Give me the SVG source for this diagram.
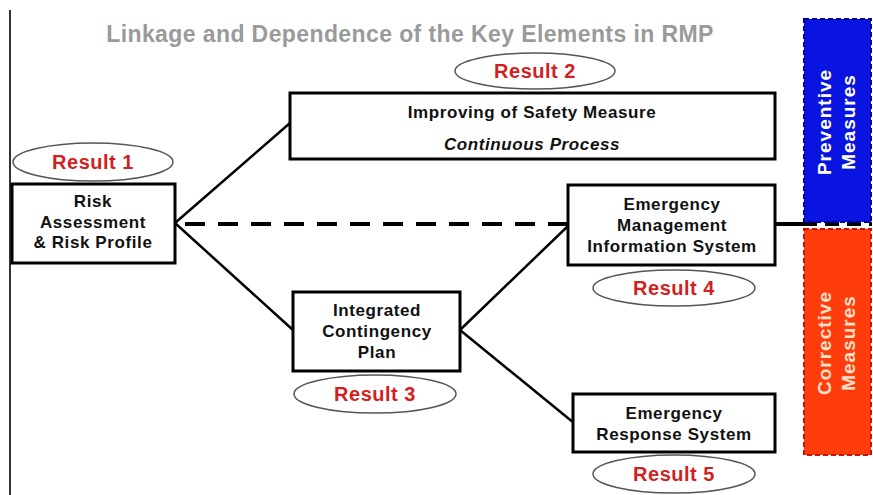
<svg xmlns="http://www.w3.org/2000/svg" width="873" height="495" viewBox="0 0 873 495">
<style>
.box{fill:#fff;stroke:#000;stroke-width:3}
.t{font-family:"Liberation Sans",Arial,sans-serif;font-weight:bold;font-size:17px;letter-spacing:0.6px;fill:#111;text-anchor:middle}
.res{fill:#fff;stroke:#555;stroke-width:1.5}
.rt{font-family:"Liberation Sans",Arial,sans-serif;font-weight:bold;font-size:20px;letter-spacing:0.5px;fill:#d21f1f;text-anchor:middle}
.conn{stroke:#000;stroke-width:2.5;fill:none}
.side{font-family:"Liberation Sans",Arial,sans-serif;font-weight:bold;font-size:19px;letter-spacing:1px;text-anchor:middle}
</style>
<rect width="873" height="495" fill="#fff"/>
<line x1="10" y1="10" x2="10" y2="495" stroke="#333" stroke-width="2"/>
<text x="410" y="42" font-family="Liberation Sans,Arial,sans-serif" font-weight="bold" font-size="23" letter-spacing="0.4" fill="#9a9a9a" text-anchor="middle">Linkage and Dependence of the Key Elements in RMP</text>

<g id="connectors">
<line class="conn" x1="175" y1="223" x2="290" y2="123"/>
<line class="conn" x1="175" y1="223" x2="293" y2="330"/>
<line class="conn" x1="460" y1="330" x2="568" y2="226"/>
<line class="conn" x1="460" y1="330" x2="574" y2="423"/>
<line x1="185" y1="224" x2="568" y2="224" stroke="#000" stroke-width="4" stroke-dasharray="20,13"/>
<line x1="775" y1="224" x2="803" y2="224" stroke="#000" stroke-width="4"/>
<line x1="803" y1="224" x2="872" y2="224" stroke="#000" stroke-width="4" stroke-dasharray="14,8"/>
</g>

<g id="preventive">
<rect x="804" y="19" width="67" height="203" fill="#0a14e0" stroke="#0000a0" stroke-width="2" stroke-dasharray="5,3"/>
<text class="side" fill="#fff" transform="translate(831,122) rotate(-90)">Preventive</text>
<text class="side" fill="#fff" transform="translate(855,122) rotate(-90)">Measures</text>
</g>

<g id="corrective">
<rect x="804" y="229" width="67" height="226" fill="#ff3c0c" stroke="#d01000" stroke-width="2" stroke-dasharray="5,3"/>
<text class="side" fill="#ffe0c8" transform="translate(831,343) rotate(-90)">Corrective</text>
<text class="side" fill="#ffe0c8" transform="translate(855,343) rotate(-90)">Measures</text>
</g>

<g id="risk">
<rect class="box" x="12" y="184" width="163" height="79"/>
<text class="t" x="93" y="207">Risk</text>
<text class="t" x="93" y="228">Assessment</text>
<text class="t" x="93" y="248">&amp; Risk Profile</text>
</g>
<g id="result1">
<ellipse class="res" cx="93" cy="162" rx="80" ry="19"/>
<text class="rt" x="93" y="169">Result 1</text>
</g>

<g id="improving">
<rect class="box" x="290" y="93" width="485" height="66"/>
<text class="t" x="532" y="118">Improving of Safety Measure</text>
<text class="t" x="532" y="150" font-style="italic">Continuous Process</text>
</g>
<g id="result2">
<ellipse class="res" cx="535" cy="71" rx="80" ry="18"/>
<text class="rt" x="535" y="78">Result 2</text>
</g>

<g id="emis">
<rect class="box" x="568" y="185" width="207" height="80"/>
<text class="t" x="672" y="210">Emergency</text>
<text class="t" x="672" y="231">Management</text>
<text class="t" x="672" y="252">Information System</text>
</g>
<g id="result4">
<ellipse class="res" cx="674" cy="288" rx="81" ry="18"/>
<text class="rt" x="674" y="295">Result 4</text>
</g>

<g id="icp">
<rect class="box" x="293" y="292" width="167" height="79"/>
<text class="t" x="377" y="316">Integrated</text>
<text class="t" x="377" y="337">Contingency</text>
<text class="t" x="377" y="358">Plan</text>
</g>
<g id="result3">
<ellipse class="res" cx="375" cy="394" rx="81" ry="19"/>
<text class="rt" x="375" y="401">Result 3</text>
</g>

<g id="ers">
<rect class="box" x="573" y="394" width="202" height="58"/>
<text class="t" x="674" y="419">Emergency</text>
<text class="t" x="674" y="440">Response System</text>
</g>
<g id="result5">
<ellipse class="res" cx="674" cy="474" rx="81" ry="19"/>
<text class="rt" x="674" y="481">Result 5</text>
</g>
</svg>
